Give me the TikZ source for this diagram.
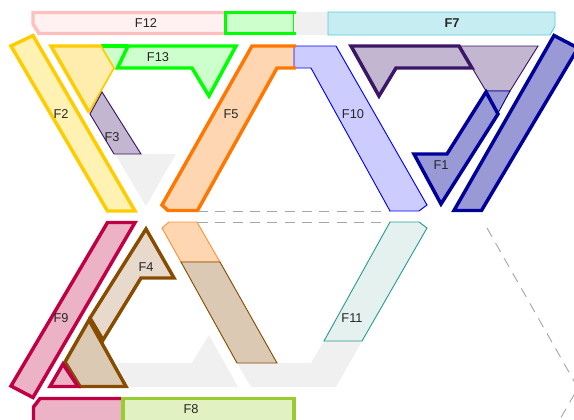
\documentclass[tikz,border=0pt]{standalone}
\usepackage{fontspec}
\setmainfont{Liberation Sans}

\tikzset{
    flabel/.style={font=\fontsize{9.6pt}{11pt}\selectfont,inner sep=0pt,text=black!85},
    fat/.style={line width=2.6pt,line join=miter},
    slim/.style={line width=.7pt,line join=miter},
    ghost/.style={fill=black!6,draw=none},
    guide/.style={draw=black!35,line width=.7pt,dash pattern=on 7.5pt off 5.5pt},
}
\definecolor{fpink}{HTML}{FFBFBF}
\definecolor{fpinkfill}{HTML}{FFF1F1}
\definecolor{fgreen}{HTML}{00FF00}
\definecolor{fgreenfill}{HTML}{CCFFCC}
\definecolor{fcyan}{HTML}{55CCDD}
\definecolor{fcyanfill}{HTML}{C6EDF1}
\definecolor{fyellow}{HTML}{FFCC00}
\definecolor{fyellowfill}{HTML}{FFF2B2}
\definecolor{fyellowdark}{HTML}{FFEDAD}
\definecolor{fpurple}{HTML}{3B1566}
\definecolor{fpurplefill}{HTML}{C2B6D1}
\definecolor{forange}{HTML}{FF7700}
\definecolor{forangefill}{HTML}{FFD6B2}
\definecolor{fblue}{HTML}{0000FF}
\definecolor{fbluefill}{HTML}{CCCCFF}
\definecolor{fnavy}{HTML}{000099}
\definecolor{fnavyfill}{HTML}{9999D6}
\definecolor{fcrimson}{HTML}{BF0044}
\definecolor{fcrimsonfill}{HTML}{ECB2C6}
\definecolor{fbrown}{HTML}{884C00}
\definecolor{fbrownfill}{HTML}{E7D9CC}
\definecolor{fbrowndark}{HTML}{DCC9B4}
\definecolor{fteal}{HTML}{2A9D94}
\definecolor{ftealfill}{HTML}{E5F1EF}
\definecolor{flime}{HTML}{99CC33}
\definecolor{flimefill}{HTML}{E1F1C2}

\begin{document}
\begin{tikzpicture}[x=.75pt,y=-.75pt]
    \useasboundingbox (0,0) rectangle (574,419);
    \clip (0,0) rectangle (574,419);

    % grey leftovers
    \fill[ghost] (294,12) rectangle (328,35);
    \fill[ghost] (115,154) -- (176,154) -- (146,206) -- cycle;
    \fill[ghost] (117,363) -- (192,363) -- (209,335) -- (238,387) -- (128,387) -- cycle;
    \fill[ghost] (237,363) -- (311,363) -- (324,341) -- (362,341) -- (336,387) -- (251,387) -- cycle;

    % top strip
    \draw[fat,draw=fpink,fill=fpinkfill] (225,12.5) -- (33,12.5) -- (33,24) -- (39,33.5) -- (225,33.5);
    \fill[fgreenfill] (225,12.5) rectangle (293,33.5);
    \draw[slim,draw=fgreen] (293,12.5) -- (293,33.5);
    \draw[fat,draw=fgreen] (296,12.5) -- (225.5,12.5) -- (225.5,33.5) -- (296,33.5);
    \draw[slim,draw=fcyan,fill=fcyanfill] (328,12) -- (555,12) -- (555,26) -- (550,35) -- (328,35) -- cycle;

    % upper ring
    \draw[fat,draw=fyellow,fill=fyellowfill] (11,46) -- (33,35.5) -- (135,211) -- (107.5,211) -- cycle;
    \fill[fgreenfill] (101,46) -- (128,46) -- (115,68) -- cycle;
    \draw[fat,draw=fgreen] (101,46) -- (128,46);
    \draw[line width=1.3pt,draw=fyellow,fill=fyellowdark] (51,46) -- (101,46) -- (114,68) -- (89,112) -- cycle;
    \draw[fat,draw=fyellow,line cap=butt] (89,112) -- (51,46) -- (101,46);
    \draw[fat,draw=fgreen,fill=fgreenfill] (128,46) -- (236,46) -- (209,96) -- (192,68) -- (117.5,68) -- cycle;
    \draw[slim,draw=fpurple,fill=fpurplefill] (102,92) -- (141,154) -- (114,154) -- (90,114) -- cycle;
    \fill[forangefill] (252,46) -- (294,46) -- (294,68) -- (277,68) -- (198,211) -- (168,211) -- (161,205) -- cycle;
    \draw[slim,draw=fblue,fill=fbluefill] (294,46) -- (336,46) -- (427,205) -- (419,211) -- (390,211) -- (311,68) -- (294,68) -- cycle;
    \draw[fat,draw=forange] (296,46) -- (252,46) -- (162,205) -- (168,210.5) -- (197.5,210.5) -- (277,68) -- (296,68);
    \draw[slim,draw=fpurple,fill=fpurplefill] (459,46) -- (538,46) -- (510,91) -- (486,91) -- cycle;
    \draw[fat,draw=fpurple,fill=fpurplefill] (351,46) -- (459,46) -- (472,68) -- (396,68) -- (379,96) -- cycle;
    \draw[slim,draw=fnavy,fill=fnavyfill] (486,91) -- (510,91) -- (498,113) -- cycle;
    \draw[fat,draw=fnavy,fill=fnavyfill] (486,92) -- (498,114) -- (441,204) -- (414,154) -- (447,154) -- cycle;
    \draw[fat,draw=fnavy,fill=fnavyfill] (554,35.5) -- (578,48) -- (481.5,210.5) -- (454,210.5) -- cycle;

    % guides
    \coordinate (guideAa) at (198,211);
    \coordinate (guideAb) at (390,211);
    \coordinate (guideBa) at (198,222);
    \coordinate (guideBb) at (390,222);
    \coordinate (guideCa) at (487,228);
    \coordinate (guideCb) at (578,388);
    \coordinate (guideCc) at (552,433);
    \draw[guide] (guideAa) -- (guideAb);
    \draw[guide] (guideBa) -- (guideBb);
    \draw[guide] (guideCa) -- (guideCb) -- (guideCc);

    % lower ring
    \draw[fat,draw=fcrimson,fill=fcrimsonfill] (107.5,222.5) -- (135,222.5) -- (33,397.5) -- (11,386) -- cycle;
    \draw[fat,draw=fbrown,fill=fbrownfill] (146,229) -- (174,278) -- (141,278) -- (103,340) -- (90,318) -- cycle;
    \draw[fat,draw=fbrown,fill=fbrowndark] (89,320) -- (126,386.5) -- (80,386.5) -- (65,362) -- cycle;
    \draw[fat,draw=fcrimson,fill=fcrimsonfill] (63,364) -- (78,386.5) -- (50,386.5) -- cycle;
    \draw[slim,draw=forange!80,fill=forangefill] (169,222) -- (197,222) -- (220,262) -- (181,262) -- (162,228) -- cycle;
    \draw[slim,draw=fbrown,fill=fbrowndark] (181,262) -- (220,262) -- (277,363) -- (237,363) -- cycle;
    \draw[slim,draw=fteal,fill=ftealfill] (390,222) -- (419,222) -- (427,228) -- (362,341) -- (324,341) -- cycle;

    % bottom strip
    \draw[fat,draw=fcrimson,fill=fcrimsonfill] (122,398.5) -- (40,398.5) -- (33.5,407) -- (33.5,425) -- (122,425);
    \draw[fat,draw=flime,fill=flimefill] (123,398.5) rectangle (294,425);

    % labels
    \node[flabel] (f12) at (146,23) {F12};
    \node[flabel,font=\fontsize{9.6pt}{11pt}\selectfont\bfseries] (f7) at (452,23) {F7};
    \node[flabel] (f13) at (158,57) {F13};
    \node[flabel] (f2) at (61,114) {F2};
    \node[flabel] (f3) at (112,137) {F3};
    \node[flabel] (f5) at (231,114) {F5};
    \node[flabel] (f10) at (353,114) {F10};
    \node[flabel] (f1) at (441,165) {F1};
    \node[flabel] (f4) at (146,267) {F4};
    \node[flabel] (f9) at (61,318) {F9};
    \node[flabel] (f11) at (352,318) {F11};
    \node[flabel] (f8) at (191,409) {F8};
\end{tikzpicture}
\end{document}
